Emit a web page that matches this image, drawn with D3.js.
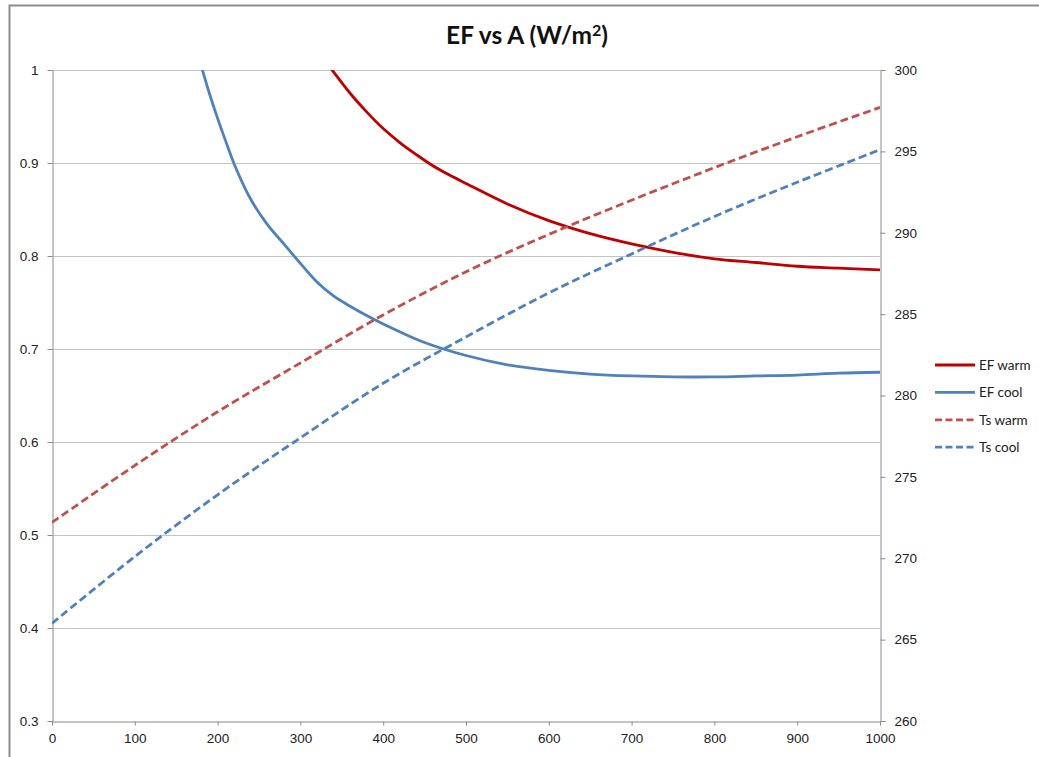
<!DOCTYPE html>
<html>
<head>
<meta charset="utf-8">
<script src="https://cdn.jsdelivr.net/npm/d3@7"></script>
<style>
  body { margin: 0; background: #fff; }
  svg { display: block; font-family: Lato, "Open Sans", sans-serif; }
</style>
</head>
<body>
<svg id="chart"></svg>
<script>
// EF (left axis), clipped at 1 like the original
const efWarmA = [320, 340, 360, 380, 400, 420, 440, 460, 480, 500, 550, 600, 650, 700, 750, 800, 850, 900, 950, 1000];
const efWarm = [1.022, 0.998, 0.975, 0.955, 0.937, 0.922, 0.909, 0.897, 0.887, 0.878, 0.856, 0.838, 0.824, 0.813, 0.804, 0.797, 0.793, 0.789, 0.787, 0.785];

const efCoolA = [170, 180, 190, 200, 210, 220, 240, 260, 280, 300, 320, 340, 360, 380, 400, 450, 500, 550, 600, 650, 700, 750, 800, 850, 900, 950, 1000];
const efCool = [1.035, 1.005, 0.975, 0.948, 0.923, 0.899, 0.861, 0.834, 0.813, 0.792, 0.772, 0.757, 0.746, 0.736, 0.727, 0.707, 0.693, 0.683, 0.677, 0.673, 0.671, 0.670, 0.670, 0.671, 0.672, 0.674, 0.675];

// Ts (right axis)
const tsA = [0, 100, 200, 300, 400, 500, 600, 700, 800, 900, 1000];
const tsWarm = [272.2, 275.7, 279.0, 282.0, 284.95, 287.6, 289.9, 292.0, 294.0, 295.9, 297.7];
const tsCool = [266.0, 270.1, 273.9, 277.4, 280.75, 283.6, 286.3, 288.7, 291.0, 293.1, 295.1];

const xTicks = [0, 100, 200, 300, 400, 500, 600, 700, 800, 900, 1000];
const leftTicks = [0.3, 0.4, 0.5, 0.6, 0.7, 0.8, 0.9, 1];
const rightTicks = [260, 265, 270, 275, 280, 285, 290, 295, 300];

const width = 1039;
const height = 757;
const margin = { top: 70, right: 159, bottom: 36, left: 52 };

const svg = d3.select("#chart").attr("width", width).attr("height", height);

// outer chart border (cut off at right/bottom)
svg.append("rect")
    .attr("x", 9.5).attr("y", 5.5)
    .attr("width", width + 20).attr("height", height + 20)
    .attr("fill", "none")
    .attr("stroke", "#8c8c8c")
    .attr("stroke-width", 2);

const x = d3.scaleLinear().domain([0, 1000]).range([margin.left, width - margin.right]);
const yL = d3.scaleLinear().domain([0.3, 1]).range([height - margin.bottom, margin.top]);
const yR = d3.scaleLinear().domain([260, 300]).range([height - margin.bottom, margin.top]);

// gridlines
svg.append("g")
    .selectAll("line")
    .data(leftTicks.slice(1))
    .join("line")
    .attr("x1", x(0)).attr("x2", x(1000))
    .attr("y1", d => Math.round(yL(d)) + 0.5)
    .attr("y2", d => Math.round(yL(d)) + 0.5)
    .attr("stroke", "#c4c4c4");

// axes
const axisColor = "#8a8a8a";
const styleAxis = g => {
    g.select(".domain").attr("stroke", axisColor);
    g.selectAll(".tick line").attr("stroke", axisColor);
    g.selectAll(".tick text").attr("fill", "#222").style("font-size", "13.5px");
};

svg.append("g")
    .attr("transform", `translate(0,${height - margin.bottom + 0.5})`)
    .call(d3.axisBottom(x).tickValues(xTicks).tickSize(4).tickSizeOuter(0).tickPadding(8).tickFormat(d3.format("d")))
    .call(styleAxis);

svg.append("g")
    .attr("transform", `translate(${margin.left + 0.5},0)`)
    .call(d3.axisLeft(yL).tickValues(leftTicks).tickSize(5).tickSizeOuter(0).tickPadding(9).tickFormat(d => d === 1 ? "1" : d3.format(".1f")(d)))
    .call(styleAxis);

svg.append("g")
    .attr("transform", `translate(${width - margin.right + 0.5},0)`)
    .call(d3.axisRight(yR).tickValues(rightTicks).tickSize(5).tickSizeOuter(0).tickPadding(9).tickFormat(d3.format("d")))
    .call(styleAxis);

// clip to plot area
svg.append("clipPath").attr("id", "plot-clip")
    .append("rect")
    .attr("x", x(0)).attr("y", margin.top)
    .attr("width", x(1000) - x(0)).attr("height", height - margin.bottom - margin.top);

const series = [
    { name: "EF warm", xs: efWarmA, ys: efWarm, scale: yL, color: "#c00000", dash: null },
    { name: "EF cool", xs: efCoolA, ys: efCool, scale: yL, color: "#4f81bd", dash: null },
    { name: "Ts warm", xs: tsA, ys: tsWarm, scale: yR, color: "#c0504d", dash: "8,4" },
    { name: "Ts cool", xs: tsA, ys: tsCool, scale: yR, color: "#4f81bd", dash: "8,4" }
];

const plot = svg.append("g").attr("clip-path", "url(#plot-clip)");

series.forEach(s => {
    const line = d3.line()
        .x(d => x(d[0]))
        .y(d => s.scale(d[1]))
        .curve(d3.curveCatmullRom.alpha(0.5));
    plot.append("path")
        .datum(s.xs.map((a, i) => [a, s.ys[i]]))
        .attr("d", line)
        .attr("fill", "none")
        .attr("stroke", s.color)
        .attr("stroke-width", 2.8)
        .attr("stroke-dasharray", s.dash);
});

// legend
const legend = svg.append("g")
    .selectAll("g")
    .data(series)
    .join("g")
    .attr("transform", (d, i) => `translate(935,${365 + i * 27.4})`);

legend.append("line")
    .attr("x1", 0).attr("x2", 40)
    .attr("stroke", d => d.color)
    .attr("stroke-width", 2.8)
    .attr("stroke-dasharray", d => d.dash ? "7,3.5" : null);

legend.append("text")
    .attr("x", 44)
    .attr("dy", "0.35em")
    .style("font-size", "13.5px")
    .attr("fill", "#222")
    .text(d => d.name);

// title
const title = svg.append("text")
    .attr("x", 527)
    .attr("y", 44)
    .attr("text-anchor", "middle")
    .style("font-size", "24.5px")
    .style("font-weight", 700)
    .attr("fill", "#111");
title.append("tspan").text("EF vs A (W/m");
title.append("tspan").text("2").attr("dy", -8).style("font-size", "16px");
title.append("tspan").text(")").attr("dy", 8);
</script>
</body>
</html>
